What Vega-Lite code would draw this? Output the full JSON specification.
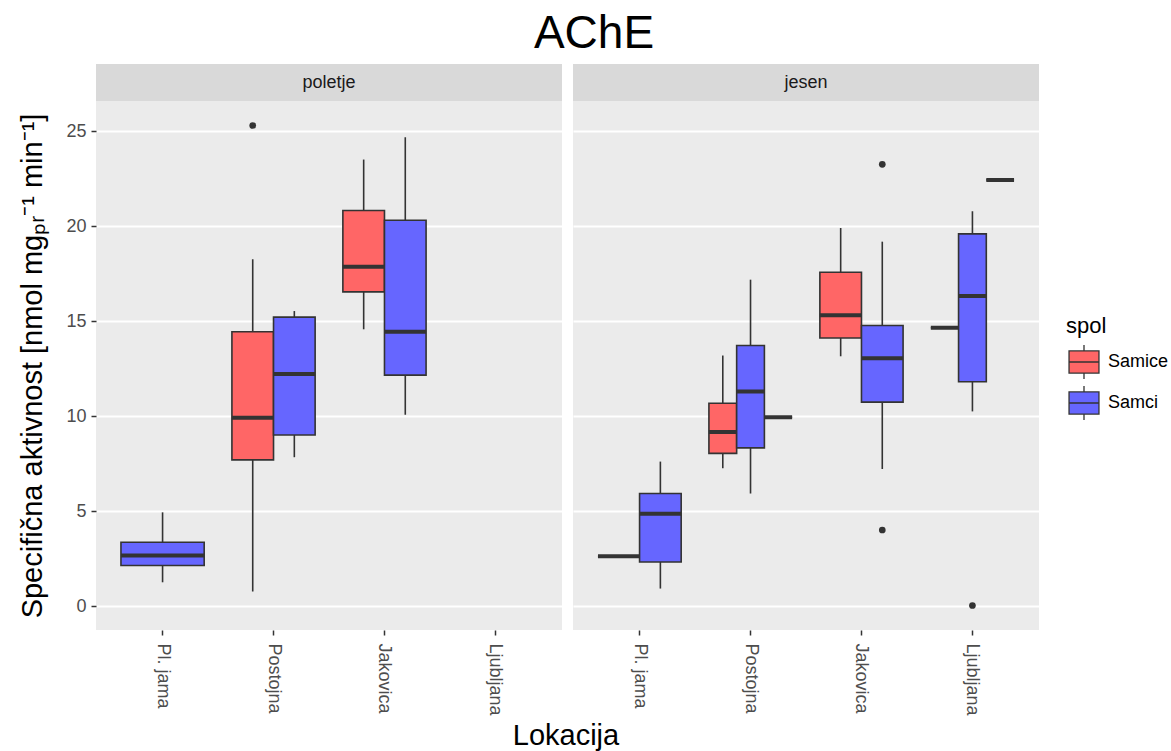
{
  "$schema": "https://vega.github.io/schema/vega-lite/v6.json",
  "padding": {"left": 18, "top": 11, "right": 5, "bottom": 3},
  "datasets": {
    "boxes": [
      {"sezona": "poletje", "lokacija": "Pl. jama", "spol": "Samci", "lo": 1.26, "q1": 2.14, "med": 2.67, "q3": 3.37, "hi": 4.94, "out": []},
      {"sezona": "poletje", "lokacija": "Postojna", "spol": "Samice", "lo": 0.78, "q1": 7.70, "med": 9.92, "q3": 14.44, "hi": 18.25, "out": [25.29]},
      {"sezona": "poletje", "lokacija": "Postojna", "spol": "Samci", "lo": 7.84, "q1": 9.01, "med": 12.22, "q3": 15.21, "hi": 15.53, "out": []},
      {"sezona": "poletje", "lokacija": "Jakovica", "spol": "Samice", "lo": 14.57, "q1": 16.54, "med": 17.86, "q3": 20.82, "hi": 23.50, "out": []},
      {"sezona": "poletje", "lokacija": "Jakovica", "spol": "Samci", "lo": 10.08, "q1": 12.16, "med": 14.44, "q3": 20.31, "hi": 24.67, "out": []},
      {"sezona": "jesen", "lokacija": "Pl. jama", "spol": "Samice", "lo": 2.63, "q1": 2.63, "med": 2.63, "q3": 2.63, "hi": 2.63, "out": []},
      {"sezona": "jesen", "lokacija": "Pl. jama", "spol": "Samci", "lo": 0.93, "q1": 2.33, "med": 4.86, "q3": 5.93, "hi": 7.61, "out": []},
      {"sezona": "jesen", "lokacija": "Postojna", "spol": "Samice", "lo": 7.26, "q1": 8.04, "med": 9.16, "q3": 10.68, "hi": 13.19, "out": []},
      {"sezona": "jesen", "lokacija": "Postojna", "spol": "Samci", "lo": 5.93, "q1": 8.33, "med": 11.30, "q3": 13.72, "hi": 17.18, "out": []},
      {"sezona": "jesen", "lokacija": "Postojna", "spol": "NA", "lo": 9.94, "q1": 9.94, "med": 9.94, "q3": 9.94, "hi": 9.94, "out": []},
      {"sezona": "jesen", "lokacija": "Jakovica", "spol": "Samice", "lo": 13.15, "q1": 14.11, "med": 15.31, "q3": 17.57, "hi": 19.90, "out": []},
      {"sezona": "jesen", "lokacija": "Jakovica", "spol": "Samci", "lo": 7.22, "q1": 10.74, "med": 13.05, "q3": 14.77, "hi": 19.18, "out": [23.25, 4.01]},
      {"sezona": "jesen", "lokacija": "Ljubljana", "spol": "Samice", "lo": 14.65, "q1": 14.65, "med": 14.65, "q3": 14.65, "hi": 14.65, "out": []},
      {"sezona": "jesen", "lokacija": "Ljubljana", "spol": "Samci", "lo": 10.25, "q1": 11.81, "med": 16.32, "q3": 19.59, "hi": 20.78, "out": [0.04]},
      {"sezona": "jesen", "lokacija": "Ljubljana", "spol": "NA", "lo": 22.43, "q1": 22.43, "med": 22.43, "q3": 22.43, "hi": 22.43, "out": []}
    ]
  },
  "data": {"name": "boxes"},
  "transform": [
    {"joinaggregate": [{"op": "count", "as": "ng"}], "groupby": ["sezona", "lokacija"]}
  ],
  "title": {"text": "AChE", "fontSize": 46, "fontWeight": "normal", "color": "#000000", "anchor": "middle", "offset": 6},
  "vconcat": [
    {
      "title": {"text": "Lokacija", "orient": "bottom", "anchor": "middle", "fontSize": 29, "fontWeight": "normal", "color": "#000000", "offset": 7, "dx": 37},
      "spacing": 11,
      "hconcat": [
        {
          "spacing": 0,
          "vconcat": [
            {
              "width": 466, "height": 37,
              "view": {"fill": "#D9D9D9", "stroke": null},
              "transform": [
                {"filter": "datum.sezona == 'poletje'"},
                {"aggregate": [{"op": "count", "as": "n"}], "groupby": ["sezona"]}
              ],
              "mark": {"type": "text", "fontSize": 18, "color": "#1A1A1A"},
              "encoding": {"text": {"field": "sezona", "type": "nominal"}}
            },
            {
              "width": 466, "height": 529,
              "view": {"fill": "#EBEBEB", "stroke": null},
              "transform": [{"filter": "datum.sezona == 'poletje'"}],
              "layer": [
                {
                  "transform": [{"filter": "datum.ng == 1"}],
                  "layer": [
                    {
                      "mark": {"type": "rule", "color": "#333333", "strokeWidth": 1.6},
                      "encoding": {
                        "x": {"field": "lokacija", "type": "nominal", "title": null, "scale": {"domain": ["Pl. jama", "Postojna", "Jakovica", "Ljubljana"], "paddingInner": 0.25, "paddingOuter": 0.225}},
                        "y": {"field": "lo", "type": "quantitative", "scale": {"domain": [-1.25, 26.58], "nice": false, "zero": false}, "axis": {"title": "Specifična aktivnost [nmol mgₚᵣ⁻¹ min⁻¹]", "values": [0, 5, 10, 15, 20, 25], "titlePadding": 18}},
                        "y2": {"field": "hi"}
                      }
                    },
                    {
                      "mark": {"type": "bar", "stroke": "#333333", "strokeWidth": 1.6, "opacity": 1},
                      "encoding": {
                        "x": {"field": "lokacija", "type": "nominal", "title": null, "scale": {"domain": ["Pl. jama", "Postojna", "Jakovica", "Ljubljana"], "paddingInner": 0.25, "paddingOuter": 0.225}},
                        "y": {"field": "q1", "type": "quantitative", "scale": {"domain": [-1.25, 26.58], "nice": false, "zero": false}, "axis": {"title": "Specifična aktivnost [nmol mgₚᵣ⁻¹ min⁻¹]", "values": [0, 5, 10, 15, 20, 25], "titlePadding": 18}},
                        "y2": {"field": "q3"},
                        "color": {"field": "spol", "type": "nominal", "scale": {"domain": ["Samice", "Samci", "NA"], "range": ["#FF6666", "#6666FF", "#7F7F7F"]}, "legend": {"values": ["Samice", "Samci"], "title": "spol"}}
                      }
                    },
                    {
                      "mark": {"type": "bar", "color": "#333333", "stroke": "#333333", "strokeWidth": 4},
                      "encoding": {
                        "x": {"field": "lokacija", "type": "nominal", "title": null, "scale": {"domain": ["Pl. jama", "Postojna", "Jakovica", "Ljubljana"], "paddingInner": 0.25, "paddingOuter": 0.225}},
                        "y": {"field": "med", "type": "quantitative", "scale": {"domain": [-1.25, 26.58], "nice": false, "zero": false}, "axis": {"title": "Specifična aktivnost [nmol mgₚᵣ⁻¹ min⁻¹]", "values": [0, 5, 10, 15, 20, 25], "titlePadding": 18}},
                        "y2": {"field": "med"}
                      }
                    }
                  ]
                },
                {
                  "transform": [{"filter": "datum.ng == 2"}],
                  "layer": [
                    {
                      "mark": {"type": "rule", "color": "#333333", "strokeWidth": 1.6},
                      "encoding": {
                        "x": {"field": "lokacija", "type": "nominal", "title": null, "scale": {"domain": ["Pl. jama", "Postojna", "Jakovica", "Ljubljana"], "paddingInner": 0.25, "paddingOuter": 0.225}},
                        "xOffset": {"field": "spol", "type": "nominal", "scale": {"domain": ["Samice", "Samci"], "paddingInner": 0, "paddingOuter": 0}},
                        "y": {"field": "lo", "type": "quantitative", "scale": {"domain": [-1.25, 26.58], "nice": false, "zero": false}, "axis": {"title": null, "values": [2.5, 7.5, 12.5, 17.5, 22.5], "labels": false, "ticks": false, "gridWidth": 1, "orient": "left"}},
                        "y2": {"field": "hi"}
                      }
                    },
                    {
                      "mark": {"type": "bar", "stroke": "#333333", "strokeWidth": 1.6, "opacity": 1},
                      "encoding": {
                        "x": {"field": "lokacija", "type": "nominal", "title": null, "scale": {"domain": ["Pl. jama", "Postojna", "Jakovica", "Ljubljana"], "paddingInner": 0.25, "paddingOuter": 0.225}},
                        "xOffset": {"field": "spol", "type": "nominal", "scale": {"domain": ["Samice", "Samci"], "paddingInner": 0, "paddingOuter": 0}},
                        "y": {"field": "q1", "type": "quantitative", "scale": {"domain": [-1.25, 26.58], "nice": false, "zero": false}, "axis": {"title": null, "values": [2.5, 7.5, 12.5, 17.5, 22.5], "labels": false, "ticks": false, "gridWidth": 1, "orient": "left"}},
                        "y2": {"field": "q3"},
                        "color": {"field": "spol", "type": "nominal", "scale": {"domain": ["Samice", "Samci", "NA"], "range": ["#FF6666", "#6666FF", "#7F7F7F"]}, "legend": {"values": ["Samice", "Samci"], "title": "spol"}}
                      }
                    },
                    {
                      "mark": {"type": "bar", "color": "#333333", "stroke": "#333333", "strokeWidth": 4},
                      "encoding": {
                        "x": {"field": "lokacija", "type": "nominal", "title": null, "scale": {"domain": ["Pl. jama", "Postojna", "Jakovica", "Ljubljana"], "paddingInner": 0.25, "paddingOuter": 0.225}},
                        "xOffset": {"field": "spol", "type": "nominal", "scale": {"domain": ["Samice", "Samci"], "paddingInner": 0, "paddingOuter": 0}},
                        "y": {"field": "med", "type": "quantitative", "scale": {"domain": [-1.25, 26.58], "nice": false, "zero": false}, "axis": {"title": null, "values": [2.5, 7.5, 12.5, 17.5, 22.5], "labels": false, "ticks": false, "gridWidth": 1, "orient": "left"}},
                        "y2": {"field": "med"}
                      }
                    },
                    {
                      "transform": [{"flatten": ["out"]}],
                      "mark": {"type": "point", "filled": true, "size": 45, "color": "#333333", "opacity": 1},
                      "encoding": {
                        "x": {"field": "lokacija", "type": "nominal", "title": null, "scale": {"domain": ["Pl. jama", "Postojna", "Jakovica", "Ljubljana"], "paddingInner": 0.25, "paddingOuter": 0.225}},
                        "xOffset": {"field": "spol", "type": "nominal", "scale": {"domain": ["Samice", "Samci"], "paddingInner": 0, "paddingOuter": 0}},
                        "y": {"field": "out", "type": "quantitative", "scale": {"domain": [-1.25, 26.58], "nice": false, "zero": false}, "axis": {"title": null, "values": [2.5, 7.5, 12.5, 17.5, 22.5], "labels": false, "ticks": false, "gridWidth": 1, "orient": "left"}}
                      }
                    }
                  ]
                }
              ],
              "resolve": {"scale": {"xOffset": "independent"}, "axis": {"y": "independent"}}
            }
          ]
        },
        {
          "spacing": 0,
          "vconcat": [
            {
              "width": 466, "height": 37,
              "view": {"fill": "#D9D9D9", "stroke": null},
              "transform": [
                {"filter": "datum.sezona == 'jesen'"},
                {"aggregate": [{"op": "count", "as": "n"}], "groupby": ["sezona"]}
              ],
              "mark": {"type": "text", "fontSize": 18, "color": "#1A1A1A"},
              "encoding": {"text": {"field": "sezona", "type": "nominal"}}
            },
            {
              "width": 466, "height": 529,
              "view": {"fill": "#EBEBEB", "stroke": null},
              "transform": [{"filter": "datum.sezona == 'jesen'"}],
              "layer": [
                {
                  "transform": [{"filter": "datum.ng == 1"}],
                  "layer": [
                    {
                      "mark": {"type": "rule", "color": "#333333", "strokeWidth": 1.6},
                      "encoding": {
                        "x": {"field": "lokacija", "type": "nominal", "title": null, "scale": {"domain": ["Pl. jama", "Postojna", "Jakovica", "Ljubljana"], "paddingInner": 0.25, "paddingOuter": 0.225}},
                        "y": {"field": "lo", "type": "quantitative", "scale": {"domain": [-1.25, 26.58], "nice": false, "zero": false}, "axis": {"title": null, "values": [0, 5, 10, 15, 20, 25], "labels": false, "ticks": false}},
                        "y2": {"field": "hi"}
                      }
                    }
                  ]
                },
                {
                  "transform": [{"filter": "datum.ng == 2"}],
                  "layer": [
                    {
                      "mark": {"type": "rule", "color": "#333333", "strokeWidth": 1.6},
                      "encoding": {
                        "x": {"field": "lokacija", "type": "nominal", "title": null, "scale": {"domain": ["Pl. jama", "Postojna", "Jakovica", "Ljubljana"], "paddingInner": 0.25, "paddingOuter": 0.225}},
                        "xOffset": {"field": "spol", "type": "nominal", "scale": {"domain": ["Samice", "Samci"], "paddingInner": 0, "paddingOuter": 0}},
                        "y": {"field": "lo", "type": "quantitative", "scale": {"domain": [-1.25, 26.58], "nice": false, "zero": false}, "axis": {"title": null, "values": [2.5, 7.5, 12.5, 17.5, 22.5], "labels": false, "ticks": false, "gridWidth": 1, "orient": "left"}},
                        "y2": {"field": "hi"}
                      }
                    },
                    {
                      "mark": {"type": "bar", "stroke": "#333333", "strokeWidth": 1.6, "opacity": 1},
                      "encoding": {
                        "x": {"field": "lokacija", "type": "nominal", "title": null, "scale": {"domain": ["Pl. jama", "Postojna", "Jakovica", "Ljubljana"], "paddingInner": 0.25, "paddingOuter": 0.225}},
                        "xOffset": {"field": "spol", "type": "nominal", "scale": {"domain": ["Samice", "Samci"], "paddingInner": 0, "paddingOuter": 0}},
                        "y": {"field": "q1", "type": "quantitative", "scale": {"domain": [-1.25, 26.58], "nice": false, "zero": false}, "axis": {"title": null, "values": [2.5, 7.5, 12.5, 17.5, 22.5], "labels": false, "ticks": false, "gridWidth": 1, "orient": "left"}},
                        "y2": {"field": "q3"},
                        "color": {"field": "spol", "type": "nominal", "scale": {"domain": ["Samice", "Samci", "NA"], "range": ["#FF6666", "#6666FF", "#7F7F7F"]}, "legend": {"values": ["Samice", "Samci"], "title": "spol"}}
                      }
                    },
                    {
                      "mark": {"type": "bar", "color": "#333333", "stroke": "#333333", "strokeWidth": 4},
                      "encoding": {
                        "x": {"field": "lokacija", "type": "nominal", "title": null, "scale": {"domain": ["Pl. jama", "Postojna", "Jakovica", "Ljubljana"], "paddingInner": 0.25, "paddingOuter": 0.225}},
                        "xOffset": {"field": "spol", "type": "nominal", "scale": {"domain": ["Samice", "Samci"], "paddingInner": 0, "paddingOuter": 0}},
                        "y": {"field": "med", "type": "quantitative", "scale": {"domain": [-1.25, 26.58], "nice": false, "zero": false}, "axis": {"title": null, "values": [2.5, 7.5, 12.5, 17.5, 22.5], "labels": false, "ticks": false, "gridWidth": 1, "orient": "left"}},
                        "y2": {"field": "med"}
                      }
                    },
                    {
                      "transform": [{"flatten": ["out"]}],
                      "mark": {"type": "point", "filled": true, "size": 45, "color": "#333333", "opacity": 1},
                      "encoding": {
                        "x": {"field": "lokacija", "type": "nominal", "title": null, "scale": {"domain": ["Pl. jama", "Postojna", "Jakovica", "Ljubljana"], "paddingInner": 0.25, "paddingOuter": 0.225}},
                        "xOffset": {"field": "spol", "type": "nominal", "scale": {"domain": ["Samice", "Samci"], "paddingInner": 0, "paddingOuter": 0}},
                        "y": {"field": "out", "type": "quantitative", "scale": {"domain": [-1.25, 26.58], "nice": false, "zero": false}, "axis": {"title": null, "values": [2.5, 7.5, 12.5, 17.5, 22.5], "labels": false, "ticks": false, "gridWidth": 1, "orient": "left"}}
                      }
                    }
                  ]
                },
                {
                  "transform": [{"filter": "datum.ng == 3"}],
                  "layer": [
                    {
                      "mark": {"type": "rule", "color": "#333333", "strokeWidth": 1.6},
                      "encoding": {
                        "x": {"field": "lokacija", "type": "nominal", "title": null, "scale": {"domain": ["Pl. jama", "Postojna", "Jakovica", "Ljubljana"], "paddingInner": 0.25, "paddingOuter": 0.225}},
                        "xOffset": {"field": "spol", "type": "nominal", "scale": {"domain": ["Samice", "Samci", "NA"], "paddingInner": 0, "paddingOuter": 0}},
                        "y": {"field": "lo", "type": "quantitative", "scale": {"domain": [-1.25, 26.58], "nice": false, "zero": false}, "axis": null},
                        "y2": {"field": "hi"}
                      }
                    },
                    {
                      "mark": {"type": "bar", "stroke": "#333333", "strokeWidth": 1.6, "opacity": 1},
                      "encoding": {
                        "x": {"field": "lokacija", "type": "nominal", "title": null, "scale": {"domain": ["Pl. jama", "Postojna", "Jakovica", "Ljubljana"], "paddingInner": 0.25, "paddingOuter": 0.225}},
                        "xOffset": {"field": "spol", "type": "nominal", "scale": {"domain": ["Samice", "Samci", "NA"], "paddingInner": 0, "paddingOuter": 0}},
                        "y": {"field": "q1", "type": "quantitative", "scale": {"domain": [-1.25, 26.58], "nice": false, "zero": false}, "axis": null},
                        "y2": {"field": "q3"},
                        "color": {"field": "spol", "type": "nominal", "scale": {"domain": ["Samice", "Samci", "NA"], "range": ["#FF6666", "#6666FF", "#7F7F7F"]}, "legend": {"values": ["Samice", "Samci"], "title": "spol"}}
                      }
                    },
                    {
                      "mark": {"type": "bar", "color": "#333333", "stroke": "#333333", "strokeWidth": 4},
                      "encoding": {
                        "x": {"field": "lokacija", "type": "nominal", "title": null, "scale": {"domain": ["Pl. jama", "Postojna", "Jakovica", "Ljubljana"], "paddingInner": 0.25, "paddingOuter": 0.225}},
                        "xOffset": {"field": "spol", "type": "nominal", "scale": {"domain": ["Samice", "Samci", "NA"], "paddingInner": 0, "paddingOuter": 0}},
                        "y": {"field": "med", "type": "quantitative", "scale": {"domain": [-1.25, 26.58], "nice": false, "zero": false}, "axis": null},
                        "y2": {"field": "med"}
                      }
                    },
                    {
                      "transform": [{"flatten": ["out"]}],
                      "mark": {"type": "point", "filled": true, "size": 45, "color": "#333333", "opacity": 1},
                      "encoding": {
                        "x": {"field": "lokacija", "type": "nominal", "title": null, "scale": {"domain": ["Pl. jama", "Postojna", "Jakovica", "Ljubljana"], "paddingInner": 0.25, "paddingOuter": 0.225}},
                        "xOffset": {"field": "spol", "type": "nominal", "scale": {"domain": ["Samice", "Samci", "NA"], "paddingInner": 0, "paddingOuter": 0}},
                        "y": {"field": "out", "type": "quantitative", "scale": {"domain": [-1.25, 26.58], "nice": false, "zero": false}, "axis": null}
                      }
                    }
                  ]
                }
              ],
              "resolve": {"scale": {"xOffset": "independent"}, "axis": {"y": "independent"}}
            }
          ]
        }
      ]
    }
  ],
  "config": {
    "font": "Liberation Sans",
    "view": {"stroke": null},
    "axis": {"domain": false, "tickColor": "#333333", "tickSize": 5, "tickWidth": 1.5, "labelColor": "#4D4D4D", "labelFontSize": 18, "titleFontWeight": "normal", "titleColor": "#000000", "titleFontSize": 29},
    "axisX": {"grid": false, "labelAngle": 90, "labelPadding": 8},
    "axisY": {"grid": true, "gridColor": "#FFFFFF", "gridWidth": 2, "labelPadding": 5},
    "legend": {
      "orient": "none", "legendX": 970, "legendY": 252,
      "titleFontSize": 22, "titleFontWeight": "normal", "titleColor": "#000000", "titlePadding": 6,
      "labelFontSize": 18, "labelColor": "#000000", "labelOffset": 6,
      "symbolType": "M-0.88,-0.65H0.88V0.65H-0.88Z M-0.88,0H0.88 M0,-0.65V-1 M0,0.65V1",
      "symbolSize": 1156, "symbolStrokeColor": "#333333", "symbolStrokeWidth": 1.3, "symbolOpacity": 1,
      "rowPadding": 1
    }
  }
}
